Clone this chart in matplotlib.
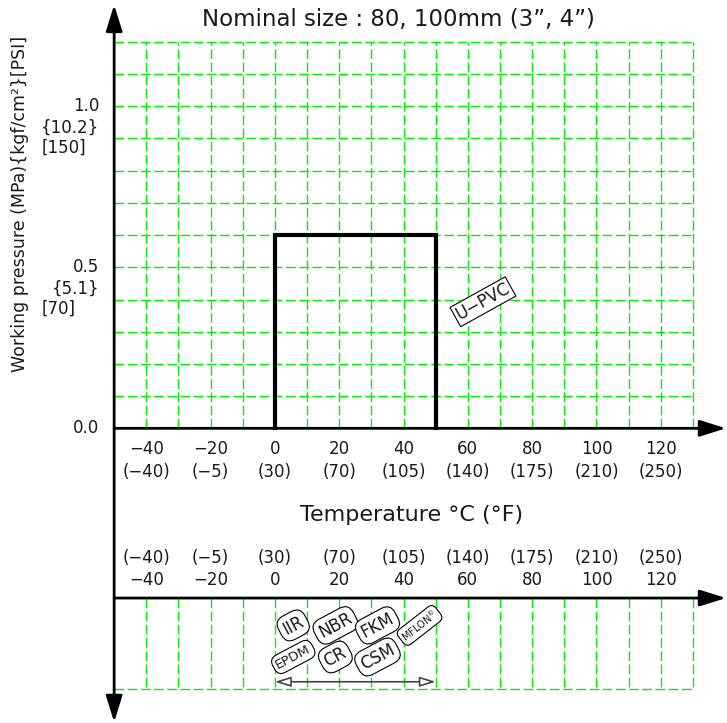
import matplotlib.pyplot as plt
import numpy as np

# temperature scale (deg C) with matching deg F labels
temp_c = [-40, -20, 0, 20, 40, 60, 80, 100, 120]
temp_f = ['(−40)', '(−5)', '(30)', '(70)', '(105)', '(140)', '(175)', '(210)', '(250)']

# pressure scale: MPa / kgf/cm2 / PSI
press_mpa = [0.0, 0.5, 1.0]
press_kgf = ['', '{5.1}', '{10.2}']
press_psi = ['', '[70]', '[150]']

# U-PVC working range
upvc_temp = [0, 0, 50, 50]
upvc_press = [0, 0.6, 0.6, 0]

# seal materials, usable over the same range
seal_range = [0, 50]
seals_top = ['IIR', 'NBR', 'FKM', r'MFLON$^{\circledR}$']
seals_bottom = ['EPDM', 'CR', 'CSM']

grid_t = np.arange(-40, 131, 10)
grid_p = np.arange(0.1, 1.21, 0.1)

fig = plt.figure(figsize=(7.27, 7.23), dpi=100)
ax = fig.add_axes([0, 0, 1, 1])
ax.set_xlim(-85.5, 140.6)
ax.set_ylim(-0.915, 1.330)
ax.axis('off')

green = '#00ee00'
dash = (0, (7, 2.5))
txt = '#1a1a1a'
t0 = -50          # where the y axis sits
low_axis = -0.527  # lower (seal) panel axis
low_bottom = -0.809

# grids
for t in grid_t:
    ax.plot([t, t], [0, 1.2], color=green, lw=1, ls=dash)
    ax.plot([t, t], [low_axis, low_bottom], color=green, lw=1, ls=dash)
for p in grid_p:
    ax.plot([t0, 130], [p, p], color=green, lw=1, ls=dash)
ax.plot([t0, 130], [low_bottom, low_bottom], color=green, lw=1, ls=dash)

# axes with arrows
head = dict(mutation_scale=20, lw=2, color='k', shrinkA=0, shrinkB=0)
ax.annotate('', xy=(t0, 1.315), xytext=(t0, -0.912),
            arrowprops=dict(arrowstyle='<|-|>,head_length=0.8,head_width=0.25', **head))
for yy in [0, low_axis]:
    ax.annotate('', xy=(140.3, yy), xytext=(t0, yy),
                arrowprops=dict(arrowstyle='-|>,head_length=0.8,head_width=0.25', **head))

# U-PVC curve
ax.plot(upvc_temp, upvc_press, color='k', lw=3, solid_joinstyle='miter', zorder=5)
ax.text(64.7, 0.393, 'U−PVC', rotation=29, ha='center', va='center', fontsize=12,
        color=txt, bbox=dict(boxstyle='square,pad=0.12', fc='white', ec='k', lw=0.8))

# tick labels, upper panel
for t, f in zip(temp_c, temp_f):
    lab = str(t).replace('-', '−')
    ax.text(t, -0.064, lab, ha='center', va='center', fontsize=12, color=txt)
    ax.text(t, -0.135, f, ha='center', va='center', fontsize=12, color=txt)
    # lower panel repeats the scale
    ax.text(t, -0.403, f, ha='center', va='center', fontsize=12, color=txt)
    ax.text(t, -0.471, lab, ha='center', va='center', fontsize=12, color=txt)

for p, k, s in zip(press_mpa, press_kgf, press_psi):
    ax.text(-54.7, p, f'{p:.1f}', ha='right', va='center', fontsize=12, color=txt)
    ax.text(-54.7, p - 0.068, k, ha='right', va='center', fontsize=12, color=txt)
    ax.text(-72.5, p - 0.13, s, ha='left', va='center', fontsize=12, color=txt)

ax.text(-79.3, 0.697, 'Working pressure (MPa){kgf/cm²}[PSI]', rotation=90,
        ha='center', va='center', fontsize=12.5, color=txt)
ax.text(38.3, 1.268, 'Nominal size : 80, 100mm (3”, 4”)', ha='center', va='center',
        fontsize=16.5, color=txt)
ax.text(42.6, -0.27, 'Temperature °C (°F)', ha='center', va='center',
        fontsize=16, color=txt)

# seal material tags
pill = dict(boxstyle='round,pad=0.25,rounding_size=0.6', fc='white', ec='k', lw=0.8)
for i, name in enumerate(seals_top):
    fs = 12 if i < 3 else 7
    ax.text(5.7 + 13.1 * i, -0.612, name, rotation=28 if i < 3 else 38, ha='center',
            va='center', fontsize=fs, color=txt, bbox=pill)
for i, name in enumerate(seals_bottom):
    fs = 9.5 if name == 'EPDM' else 12
    ax.text(5.7 + 13.1 * i, -0.71, name, rotation=28, ha='center', va='center',
            fontsize=fs, color=txt, bbox=pill)

ax.annotate('', xy=(seal_range[1], -0.787), xytext=(seal_range[0], -0.787),
            arrowprops=dict(arrowstyle='<|-|>,head_length=0.8,head_width=0.25',
                            mutation_scale=12, lw=1.2, ec='#444444', fc='white',
                            shrinkA=0, shrinkB=0))

fig.savefig('out.png', dpi=100)
